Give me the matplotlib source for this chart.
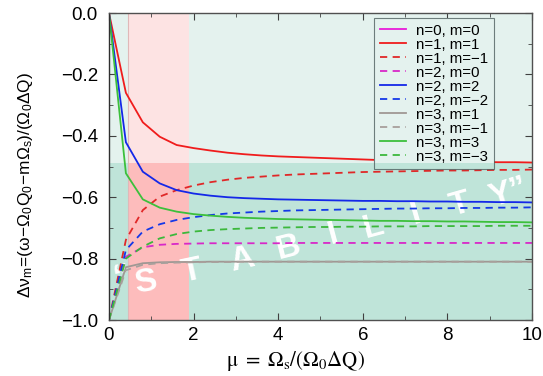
import matplotlib
matplotlib.use("Agg")
import matplotlib.pyplot as plt
from matplotlib.patches import Rectangle
from matplotlib.ticker import MultipleLocator

plt.rcParams['font.family'] = ['Liberation Sans', 'DejaVu Sans']
plt.rcParams['mathtext.fontset'] = 'custom'
plt.rcParams['mathtext.rm'] = 'Liberation Sans'
plt.rcParams['mathtext.it'] = 'Liberation Sans'
plt.rcParams['mathtext.bf'] = 'Liberation Sans:bold'

# data
mu = [0.0, 0.4, 0.8, 1.2, 1.6, 2.0, 2.4, 2.8, 3.2, 3.6, 4.0, 4.4, 4.8,
      5.2, 5.6, 6.0, 6.4, 6.8, 7.2, 7.6, 8.0, 8.4, 8.8, 9.2, 9.6, 10.0]

n0_m0 = [0.0] * 26
n1_m1 = [0.0, -0.260, -0.356, -0.403, -0.430, -0.440, -0.448, -0.455, -0.460,
         -0.464, -0.467, -0.469, -0.471, -0.473, -0.475, -0.477, -0.479, -0.480,
         -0.481, -0.482, -0.483, -0.484, -0.485, -0.486, -0.486, -0.487]
n1_mm1 = [-1.0, -0.739, -0.642, -0.598, -0.577, -0.562, -0.551, -0.543, -0.537,
          -0.533, -0.529, -0.526, -0.524, -0.522, -0.520, -0.518, -0.517, -0.516,
          -0.515, -0.514, -0.513, -0.513, -0.512, -0.511, -0.511, -0.510]
n2_m0 = [-1.0, -0.794, -0.763, -0.755, -0.752, -0.751, -0.750, -0.750, -0.750,
         -0.750, -0.750, -0.749, -0.749, -0.749, -0.749, -0.749, -0.749, -0.749,
         -0.749, -0.749, -0.749, -0.749, -0.749, -0.749, -0.749, -0.749]
n2_m2 = [0.0, -0.421, -0.517, -0.555, -0.577, -0.588, -0.595, -0.600, -0.603,
         -0.605, -0.607, -0.608, -0.609, -0.610, -0.611, -0.612, -0.612, -0.613,
         -0.613, -0.614, -0.614, -0.615, -0.615, -0.616, -0.616, -0.617]
n2_mm2 = [-1.0, -0.772, -0.712, -0.688, -0.674, -0.665, -0.658, -0.653, -0.650,
          -0.647, -0.645, -0.643, -0.642, -0.641, -0.640, -0.639, -0.638, -0.637,
          -0.637, -0.636, -0.636, -0.635, -0.635, -0.634, -0.634, -0.633]
n3_m1 = [-1.0, -0.828, -0.815, -0.812, -0.811, -0.811, -0.810, -0.810, -0.810,
         -0.810, -0.810, -0.810, -0.810, -0.810, -0.810, -0.810, -0.810, -0.810,
         -0.810, -0.810, -0.810, -0.810, -0.810, -0.810, -0.810, -0.810]
n3_mm1 = [-1.0, -0.838, -0.820, -0.815, -0.813, -0.812, -0.811, -0.811, -0.810,
          -0.810, -0.810, -0.810, -0.810, -0.810, -0.810, -0.810, -0.810, -0.810,
          -0.810, -0.810, -0.810, -0.810, -0.810, -0.810, -0.810, -0.810]
n3_m3 = [0.0, -0.522, -0.607, -0.634, -0.647, -0.655, -0.660, -0.664, -0.667,
         -0.669, -0.671, -0.672, -0.673, -0.674, -0.675, -0.676, -0.677, -0.677,
         -0.678, -0.678, -0.679, -0.679, -0.680, -0.681, -0.681, -0.682]
n3_mm3 = [-1.0, -0.800, -0.761, -0.734, -0.720, -0.712, -0.707, -0.704, -0.702,
          -0.700, -0.699, -0.698, -0.697, -0.697, -0.696, -0.696, -0.695, -0.695,
          -0.695, -0.694, -0.694, -0.694, -0.694, -0.693, -0.693, -0.693]

series = [
    (n0_m0, '#e81cd8', '-', 'n=0, m=0'),
    (n1_m1, '#f01c1c', '-', 'n=1, m=1'),
    (n1_mm1, '#e02828', '--', 'n=1, m=\u22121'),
    (n2_m0, '#d828c8', '--', 'n=2, m=0'),
    (n2_m2, '#1428e8', '-', 'n=2, m=2'),
    (n2_mm2, '#1438e8', '--', 'n=2, m=\u22122'),
    (n3_m1, '#a09894', '-', 'n=3, m=1'),
    (n3_mm1, '#a8a09c', '--', 'n=3, m=\u22121'),
    (n3_m3, '#3cc03c', '-', 'n=3, m=3'),
    (n3_mm3, '#3cb83c', '--', 'n=3, m=\u22123'),
]

# regions
band_lo, band_hi = 0.45, 1.9
split_y = -0.487
teal_hi, teal_lo = '#e4f2ee', '#bfe4d9'
pink_hi, pink_lo = '#fde3e3', '#fdbcbc'

stab_letters = ['\u201c', 'S', 'T', 'A', 'B', 'I', 'L', 'I', 'T', 'Y\u201d']
stab_x = [0.30, 0.86, 1.96, 3.14, 4.24, 5.30, 6.25, 7.25, 8.30, 9.45]
stab_y = [-0.862, -0.878, -0.843, -0.805, -0.766, -0.723, -0.696, -0.658, -0.626, -0.588]
stab_rot = [10, 10, 12, 13, 14, 15, 15, 16, 16, 17]

fig = plt.figure(figsize=(5.43, 3.76), dpi=100)
ax = fig.add_axes([0.2007, 0.1489, 0.779, 0.8165])

ax.add_patch(Rectangle((0, split_y), 10, -split_y, color=teal_hi, zorder=0, lw=0))
ax.add_patch(Rectangle((0, -1), 10, split_y + 1, color=teal_lo, zorder=0, lw=0))
ax.add_patch(Rectangle((band_lo, split_y), band_hi - band_lo, -split_y, color=pink_hi, zorder=0.5, lw=0))
ax.add_patch(Rectangle((band_lo, -1), band_hi - band_lo, split_y + 1, color=pink_lo, zorder=0.5, lw=0))
ax.axvline(band_lo, color='#e0b8b8', lw=0.8, zorder=0.6)

for i in range(len(stab_letters)):
    ax.text(stab_x[i], stab_y[i], stab_letters[i], color='white', fontsize=24,
            fontweight='bold', rotation=stab_rot[i], ha='center', va='center',
            zorder=1)

for ys, c, ls, lab in series:
    ax.plot(mu, ys, color=c, ls=ls, lw=1.3, label=lab, zorder=2,
            dashes=(4, 3) if ls == '--' else (None, None))

ax.set_xlim(0, 10)
ax.set_ylim(-1.0, 0.0)
ax.xaxis.set_major_locator(MultipleLocator(2))
ax.xaxis.set_minor_locator(MultipleLocator(1))
ax.yaxis.set_major_locator(MultipleLocator(0.2))
ax.yaxis.set_minor_locator(MultipleLocator(0.1))
ax.tick_params(which='both', direction='in', top=True, right=True,
               labelsize=13.5, color='#404040')
ax.tick_params(axis='x', pad=5)
ax.tick_params(axis='y', pad=8)
ax.tick_params(which='major', length=5)
ax.tick_params(which='minor', length=3)
ax.yaxis.set_major_formatter(plt.FuncFormatter(lambda v, p: ('%.1f' % v).replace('-', '\u2212')))
for s in ax.spines.values():
    s.set_color('#505050')
    s.set_linewidth(1.0)
ax.spines['left'].set_color('#303030')

ax.set_xlabel(r'$\mathrm{\mu\ =\ \Omega_s/(\Omega_0\Delta Q)}$', fontsize=15,
              math_fontfamily='stix')
ax.xaxis.set_label_coords(0.44, -0.095)
ax.set_ylabel(r'$\Delta\nu_m\!=\!(\omega\!-\!\Omega_0Q_0\!-\!m\Omega_s)/(\Omega_0\Delta Q)$',
              fontsize=12.4)
ax.yaxis.set_label_coords(-0.176, 0.44)

leg = ax.legend(loc='upper right', bbox_to_anchor=(0.91, 0.984), borderaxespad=0,
                fontsize=10.8, frameon=True, fancybox=False, handlelength=1.7,
                labelspacing=0.0, borderpad=0.38, handletextpad=0.7)
leg.get_frame().set_facecolor('none')
leg.get_frame().set_edgecolor('#506060')
leg.get_frame().set_linewidth(0.8)

# hide the lines behind the legend box with the background colours
fig.canvas.draw()
bb = leg.get_window_extent().transformed(ax.transData.inverted())
x0, x1 = bb.x0, bb.x1
y0, y1 = bb.y0, bb.y1
ax.add_patch(Rectangle((x0, split_y), x1 - x0, y1 - split_y, color=teal_hi, zorder=3, lw=0))
ax.add_patch(Rectangle((x0, y0), x1 - x0, split_y - y0, color=teal_lo, zorder=3, lw=0))
leg.set_zorder(5)

fig.savefig('out.png', dpi=100)
